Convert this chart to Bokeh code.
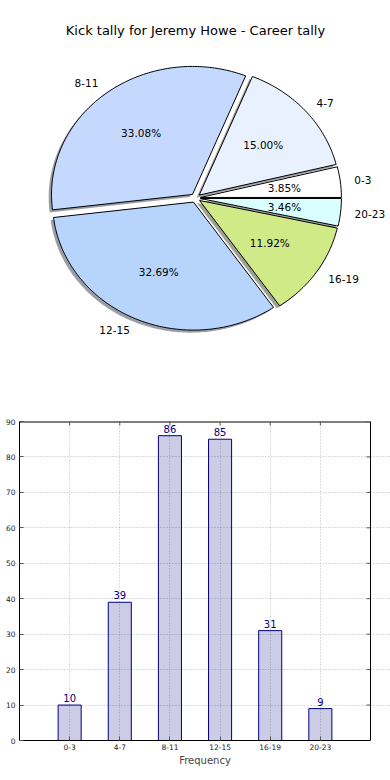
import numpy as np
from bokeh.plotting import figure
from bokeh.models import Range1d, ColumnDataSource, FixedTicker, Label, Span
from bokeh.layouts import column
from bokeh.core.properties import value
from bokeh.embed import file_html
from bokeh.resources import INLINE

# ---------------- data ----------------
title_text = "Kick tally for Jeremy Howe - Career tally"
categories = ["0-3", "4-7", "8-11", "12-15", "16-19", "20-23"]
counts = [10, 39, 86, 85, 31, 9]
pie_colors = ["#ffffff", "#eaf1fe", "#c5d8fd", "#b7d4fd", "#d0ea88", "#d9ffff"]
y_ticks = [0, 10, 20, 30, 40, 50, 60, 70, 80, 90]
x_label = "Frequency"
watermark = "Dream-Stats.com"

FONT = value("DejaVu Sans")

# layout (page pixels): both frames span x 19..390; the bar box ends at 370
BORDER_L, WIDTH = 19, 390
BOX_R = 370

# ---------------- pie (pixel data space) ----------------
CX, CY, RX, RY, EXPL = 195.0, 197.5, 141.0, 128.0, 0.035

total = float(sum(counts))
fracs = np.array(counts) / total
cum = np.concatenate([[0.0], np.cumsum(fracs)])
t1s = 2 * np.pi * cum[:-1]
t2s = 2 * np.pi * cum[1:]

pie = figure(width=WIDTH, height=400,
             x_range=Range1d(BORDER_L, WIDTH), y_range=Range1d(400, 0),
             x_axis_location=None, y_axis_location=None,
             output_backend="svg", toolbar_location=None,
             min_border_left=BORDER_L, min_border_right=0,
             min_border_top=0, min_border_bottom=0)
pie.grid.visible = False
pie.outline_line_color = None

wx, wy, sx, sy, shadow_cols = [], [], [], [], []
for i, (a, b) in enumerate(zip(t1s, t2s)):
    mid = 0.5 * (a + b)
    ox = CX + EXPL * RX * np.cos(mid)
    oy = CY - EXPL * RY * np.sin(mid)
    ts = np.linspace(a, b, max(8, int((b - a) / (2 * np.pi) * 360)))
    xs = [ox] + list(ox + RX * np.cos(ts)) + [ox]
    ys = [oy] + list(oy - RY * np.sin(ts)) + [oy]
    wx.append(xs)
    wy.append(ys)
    sx.append([v - 0.02 * RX for v in xs])
    sy.append([v + 0.02 * RY for v in ys])
    h = pie_colors[i].lstrip("#")
    r, g, bb = (int(h[k:k + 2], 16) for k in (0, 2, 4))
    shadow_cols.append("#%02x%02x%02x" % (int(r * 0.3), int(g * 0.3), int(bb * 0.3)))
    side = "left" if np.cos(mid) > 0 else "right"
    pie.add_layout(Label(x=ox + 1.1 * RX * np.cos(mid), y=oy - 1.1 * RY * np.sin(mid),
                         text=categories[i], text_align=side, text_baseline="middle",
                         text_font="DejaVu Sans", text_font_size="10.5px", text_color="black"))
    pie.add_layout(Label(x=ox + 0.6 * RX * np.cos(mid), y=oy - 0.6 * RY * np.sin(mid),
                         text="%.2f%%" % (100 * fracs[i]), text_align="center",
                         text_baseline="middle", text_font="DejaVu Sans",
                         text_font_size="10.5px", text_color="black"))

pie.patches(xs=sx, ys=sy, fill_color=shadow_cols, fill_alpha=0.5, line_color=None)
pie.patches(xs=wx, ys=wy, fill_color=pie_colors, line_color="black", line_width=1)

pie.add_layout(Label(x=195, y=30, text=title_text, text_align="center", text_baseline="middle",
                     text_font="DejaVu Sans", text_font_size="13px", text_color="black"))

# ---------------- bar chart ----------------
xpos = list(range(len(categories)))
src = ColumnDataSource(dict(x=xpos, top=counts, lbl=[str(c) for c in counts]))

X_LO, X_HI = -1, 6
Y_LO, Y_HI = y_ticks[0], y_ticks[-1]
px_per_unit = (BOX_R - BORDER_L) / (X_HI - X_LO)
x_end = X_HI + (WIDTH - BOX_R) / px_per_unit   # frame extends to canvas edge

bar = figure(width=WIDTH, height=380, x_range=Range1d(X_LO, x_end), y_range=Range1d(Y_LO, Y_HI),
             output_backend="svg", toolbar_location=None,
             min_border_left=BORDER_L, min_border_right=0,
             min_border_top=21, min_border_bottom=40)
bar.outline_line_color = None

xt = FixedTicker(ticks=xpos)
yt = FixedTicker(ticks=y_ticks)
bar.xaxis.ticker = xt
bar.yaxis.ticker = yt
bar.xaxis.bounds = (X_LO, X_HI)
bar.xaxis.major_label_overrides = {i: c for i, c in enumerate(categories)}
bar.xgrid.ticker = xt
bar.ygrid.ticker = yt
bar.ygrid.bounds = (X_LO, X_HI)
for g in (bar.xgrid, bar.ygrid):
    g.grid_line_color = "#b8b8b8"
    g.grid_line_dash = "1 2"
    g.grid_line_width = 1

bar.vbar(x="x", top="top", width=0.46, source=src, fill_color="navy", fill_alpha=0.2,
         line_color="navy", line_width=1)
bar.text(x="x", y="top", text="lbl", source=src, text_align="center", text_baseline="bottom",
         y_offset=-3, text_font=FONT, text_font_size="10px", text_color="navy")

for ax in (bar.xaxis, bar.yaxis):
    ax.major_tick_in = 4
    ax.major_tick_out = 0
    ax.minor_tick_line_color = None
    ax.axis_line_color = "black"
    ax.major_tick_line_color = "#555555"
    ax.major_label_text_font = "DejaVu Sans"
    ax.major_label_text_font_size = "7.5px"
    ax.major_label_text_color = "#222222"
bar.yaxis.major_label_standoff = 4
bar.xaxis.major_label_standoff = 3

bar.xaxis.axis_label = x_label
bar.xaxis.axis_label_text_font = "DejaVu Sans"
bar.xaxis.axis_label_text_font_style = "normal"
bar.xaxis.axis_label_text_font_size = "10px"
bar.xaxis.axis_label_standoff = 2

# box: right and top edges
bar.add_layout(Span(location=X_HI, dimension="height", line_color="black", line_width=1))
bar.segment(x0=[X_LO], y0=[Y_HI], x1=[X_HI], y1=[Y_HI], line_color="black", line_width=2)

# inward tick marks on right and top edges
bar.ray(x=[X_HI] * len(y_ticks), y=y_ticks, length=4, length_units="screen", angle=np.pi,
        line_color="#555555", line_width=1)
bar.ray(x=xpos, y=[Y_HI] * len(xpos), length=4, length_units="screen", angle=-np.pi / 2,
        line_color="#555555", line_width=1)

bar.add_layout(Label(x=X_LO, y=Y_LO, x_offset=-19, y_offset=-37, text=watermark,
                     text_font="DejaVu Sans", text_font_size="11.5px", text_font_style="bold",
                     text_color="#9a9a9a", text_align="left", text_baseline="bottom"))

layout = column(pie, bar)
open("out.html", "w").write(file_html(layout, INLINE))
